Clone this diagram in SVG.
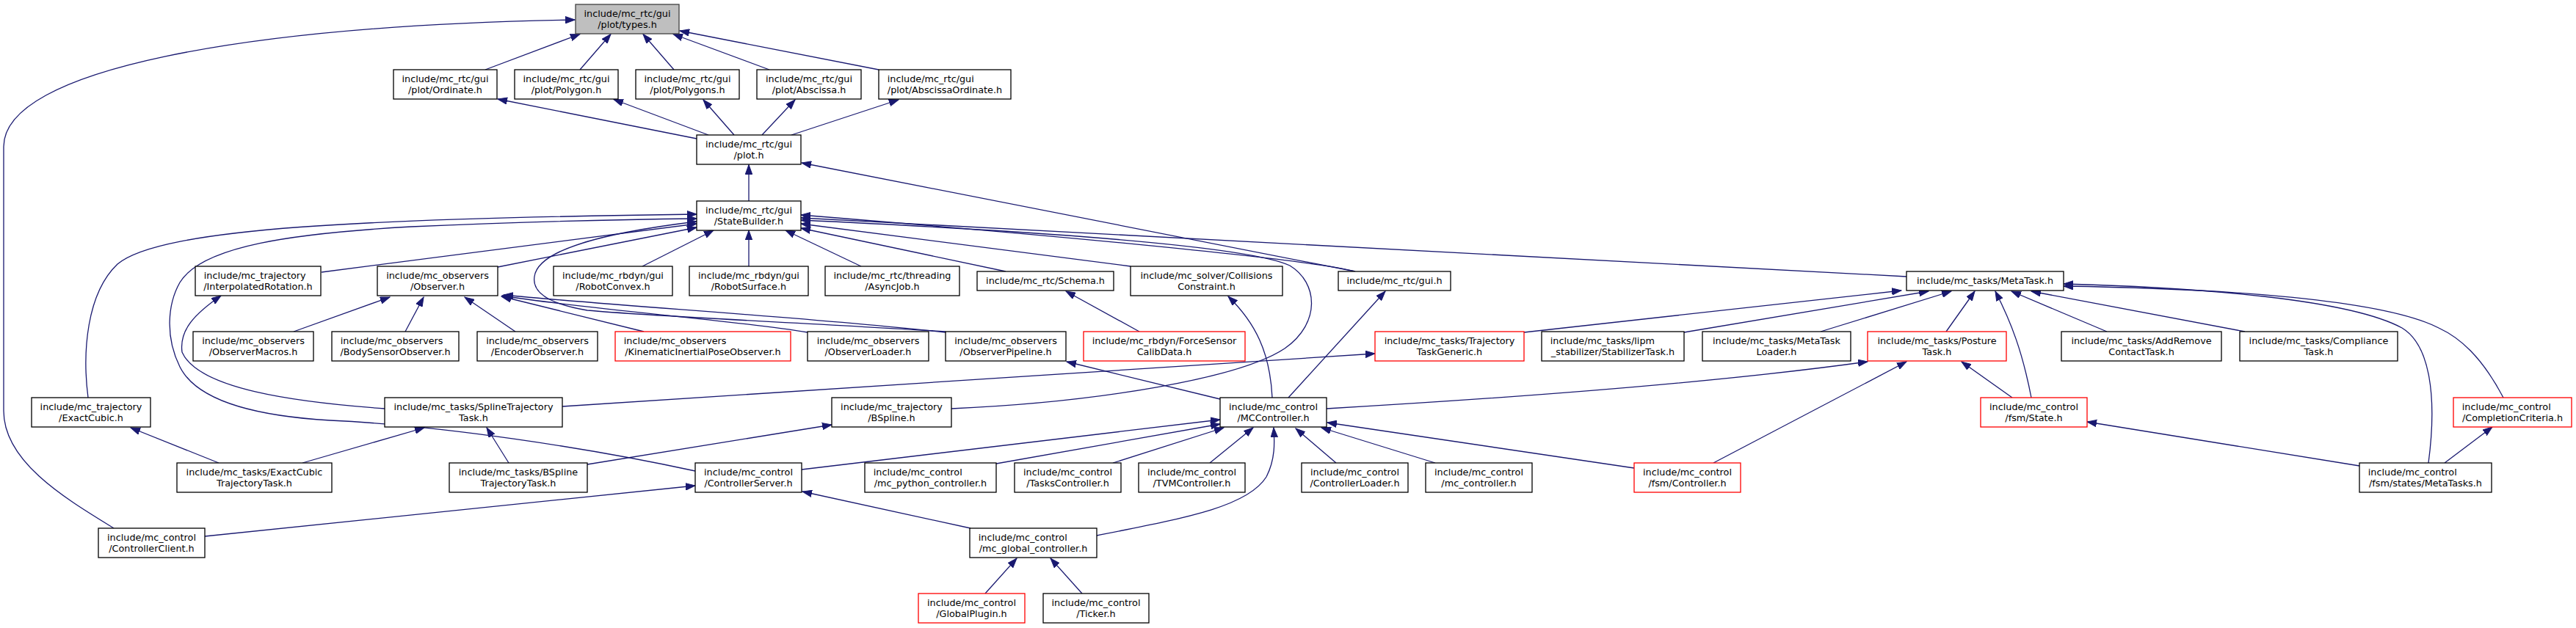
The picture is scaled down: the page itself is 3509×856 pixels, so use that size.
<svg xmlns="http://www.w3.org/2000/svg" width="3509" height="856" viewBox="0 0 3509 856">
<style>
rect{fill:#fff;stroke:#000;stroke-width:1.3}
rect.root{fill:#bfbfbf;stroke:#404040}
rect.red{stroke:#ff0000}
text{font-family:"DejaVu Sans",sans-serif;font-size:12.8px;fill:#000}
text.c{text-anchor:middle}
#edges path{fill:none;stroke:#191970;stroke-width:1.3;marker-end:url(#ah)}
</style>
<defs>
<marker id="ah" markerWidth="14" markerHeight="10" refX="13" refY="5" orient="auto" markerUnits="userSpaceOnUse"><path d="M0,0.3 L13,5 L0,9.7 z" fill="#191970" stroke="#191970" stroke-width="1"/></marker>
</defs>
<rect x="0" y="0" width="3509" height="856" style="fill:#fff;stroke:none"/>
<g id="edges">
<path d="M661,95 L790,46.5"/>
<path d="M790,95 L832,46.5"/>
<path d="M918,95 L876,46.5"/>
<path d="M1048,95 L917,46.5"/>
<path d="M1197,95 L926,42"/>
<path d="M155,720 C90,680 5,630 5,560 L5,200 C5,95 330,35 783,27"/>
<path d="M949,189 L678,135"/>
<path d="M965,184 L836,135.5"/>
<path d="M1000,184 L958,136"/>
<path d="M1038,184 L1083,136"/>
<path d="M1078,184 L1224,136"/>
<path d="M1020,274 L1020,224.5"/>
<path d="M1846,370 L1092,222"/>
<path d="M1846,370 C1780,352 1400,318 1091,293"/>
<path d="M2597,377 L1091,297"/>
<path d="M1370,370 L1091,311"/>
<path d="M1540,363 L1091,305"/>
<path d="M1173,363 L1070,314"/>
<path d="M1020,363 L1020,314"/>
<path d="M875,363 L972,314"/>
<path d="M678,364 L949,310"/>
<path d="M438,371 L949,305"/>
<path d="M120,542 C112,480 118,400 160,360 C220,310 500,298 949,292"/>
<path d="M947,642 C800,610 600,580 450,573 C330,566 265,540 245,500 C225,460 228,415 245,385 C275,335 400,318 560,309 C720,302 860,299 949,298"/>
<path d="M1288,452 C1100,440 900,432 800,423 C740,413 725,395 728,377 C732,345 800,320 949,302"/>
<path d="M1296,557 C1500,548 1690,515 1750,475 C1800,440 1795,385 1757,362 C1690,330 1300,310 1091,300"/>
<path d="M524,557 C400,548 270,530 248,480 C244,450 265,428 301,403"/>
<path d="M400,452 L531,405"/>
<path d="M552,452 L577,405"/>
<path d="M702,452 L633,405"/>
<path d="M877,452 L683,404"/>
<path d="M1100,453 C1000,436 800,422 684,403"/>
<path d="M1288,453 C1100,432 850,418 686,402"/>
<path d="M766,554 L1873,482"/>
<path d="M298,631 L178,583"/>
<path d="M412,631 L578,583"/>
<path d="M693,631 L663,583"/>
<path d="M800,633 L1133,579"/>
<path d="M279,731 L947,662"/>
<path d="M1322,720 L1093,670"/>
<path d="M1342,809 L1385,761"/>
<path d="M1474,809 L1431,761"/>
<path d="M1552,452 L1452,397"/>
<path d="M1733,542 C1730,480 1710,440 1673,404"/>
<path d="M1755,542 L1887,397"/>
<path d="M1662,544 L1453,493"/>
<path d="M1807,557 C2100,540 2350,520 2544,493"/>
<path d="M1092,640 L1662,572"/>
<path d="M1357,632 L1662,578"/>
<path d="M1516,631 L1667,583"/>
<path d="M1648,631 L1707,583"/>
<path d="M1494,730 C1620,705 1700,690 1725,650 C1738,625 1736,600 1735,583"/>
<path d="M1820,631 L1765,584"/>
<path d="M1955,631 L1800,583"/>
<path d="M2226,638 L1808,576"/>
<path d="M2334,631 L2597,493"/>
<path d="M2741,542 L2672,493"/>
<path d="M3214,635 L2843,575"/>
<path d="M3330,631 L3395,582"/>
<path d="M3308,631 C3320,540 3310,470 3272,447 C3200,408 3000,392 2811,387"/>
<path d="M3410,542 C3380,485 3350,460 3322,447 C3240,405 3000,393 2811,390"/>
<path d="M2076,453 L2590,396"/>
<path d="M2294,453 L2627,397"/>
<path d="M2480,452 L2658,397"/>
<path d="M2651,452 L2690,397"/>
<path d="M2767,542 C2755,480 2740,440 2718,397"/>
<path d="M2870,452 L2740,397"/>
<path d="M3058,452 L2767,397"/>
</g>
<g id="n_types"><rect class="root" x="784" y="6" width="141" height="40"/><text class="c" x="854.5" y="22.5">include/mc_rtc/gui</text><text class="c" x="854.5" y="37.5">/plot/types.h</text></g>
<g id="n_ordinate"><rect x="536" y="95" width="141" height="40"/><text class="c" x="606.5" y="111.5">include/mc_rtc/gui</text><text class="c" x="606.5" y="126.5">/plot/Ordinate.h</text></g>
<g id="n_polygon"><rect x="701" y="95" width="141" height="40"/><text class="c" x="771.5" y="111.5">include/mc_rtc/gui</text><text class="c" x="771.5" y="126.5">/plot/Polygon.h</text></g>
<g id="n_polygons"><rect x="866" y="95" width="141" height="40"/><text class="c" x="936.5" y="111.5">include/mc_rtc/gui</text><text class="c" x="936.5" y="126.5">/plot/Polygons.h</text></g>
<g id="n_abscissa"><rect x="1031" y="95" width="142" height="40"/><text class="c" x="1102" y="111.5">include/mc_rtc/gui</text><text class="c" x="1102" y="126.5">/plot/Abscissa.h</text></g>
<g id="n_absord"><rect x="1197" y="95" width="180" height="40"/><text x="1208.8" y="111.5">include/mc_rtc/gui</text><text class="c" x="1287" y="126.5">/plot/AbscissaOrdinate.h</text></g>
<g id="n_plot"><rect x="949" y="184" width="142" height="40"/><text class="c" x="1020" y="200.5">include/mc_rtc/gui</text><text class="c" x="1020" y="215.5">/plot.h</text></g>
<g id="n_statebuilder"><rect x="949" y="274" width="142" height="40"/><text class="c" x="1020" y="290.5">include/mc_rtc/gui</text><text class="c" x="1020" y="305.5">/StateBuilder.h</text></g>
<g id="n_interp"><rect x="266" y="363" width="171" height="40"/><text x="277.8" y="379.5">include/mc_trajectory</text><text class="c" x="351.5" y="394.5">/InterpolatedRotation.h</text></g>
<g id="n_observer"><rect x="514" y="363" width="164" height="40"/><text class="c" x="596" y="379.5">include/mc_observers</text><text class="c" x="596" y="394.5">/Observer.h</text></g>
<g id="n_robotconvex"><rect x="754" y="363" width="162" height="40"/><text class="c" x="835" y="379.5">include/mc_rbdyn/gui</text><text class="c" x="835" y="394.5">/RobotConvex.h</text></g>
<g id="n_robotsurface"><rect x="939" y="363" width="162" height="40"/><text class="c" x="1020" y="379.5">include/mc_rbdyn/gui</text><text class="c" x="1020" y="394.5">/RobotSurface.h</text></g>
<g id="n_asyncjob"><rect x="1124" y="363" width="183" height="40"/><text class="c" x="1215.5" y="379.5">include/mc_rtc/threading</text><text class="c" x="1215.5" y="394.5">/AsyncJob.h</text></g>
<g id="n_schema"><rect x="1331" y="370" width="186" height="26"/><text class="c" x="1424" y="387">include/mc_rtc/Schema.h</text></g>
<g id="n_collisions"><rect x="1540" y="363" width="207" height="40"/><text class="c" x="1643.5" y="379.5">include/mc_solver/Collisions</text><text class="c" x="1643.5" y="394.5">Constraint.h</text></g>
<g id="n_gui"><rect x="1823" y="370" width="153" height="26"/><text class="c" x="1899.5" y="387">include/mc_rtc/gui.h</text></g>
<g id="n_metatask"><rect x="2597" y="370" width="214" height="26"/><text class="c" x="2704" y="387">include/mc_tasks/MetaTask.h</text></g>
<g id="n_obsmacros"><rect x="263" y="452" width="164" height="40"/><text class="c" x="345" y="468.5">include/mc_observers</text><text class="c" x="345" y="483.5">/ObserverMacros.h</text></g>
<g id="n_bodysensor"><rect x="452" y="452" width="173" height="40"/><text x="463.8" y="468.5">include/mc_observers</text><text class="c" x="538.5" y="483.5">/BodySensorObserver.h</text></g>
<g id="n_encoder"><rect x="650" y="452" width="164" height="40"/><text class="c" x="732" y="468.5">include/mc_observers</text><text class="c" x="732" y="483.5">/EncoderObserver.h</text></g>
<g id="n_kinematic"><rect class="red" x="838" y="452" width="239" height="40"/><text x="849.8" y="468.5">include/mc_observers</text><text class="c" x="957.5" y="483.5">/KinematicInertialPoseObserver.h</text></g>
<g id="n_obsloader"><rect x="1100" y="452" width="165" height="40"/><text class="c" x="1182.5" y="468.5">include/mc_observers</text><text class="c" x="1182.5" y="483.5">/ObserverLoader.h</text></g>
<g id="n_obspipeline"><rect x="1288" y="452" width="164" height="40"/><text class="c" x="1370" y="468.5">include/mc_observers</text><text class="c" x="1370" y="483.5">/ObserverPipeline.h</text></g>
<g id="n_forcesensor"><rect class="red" x="1476" y="452" width="220" height="40"/><text class="c" x="1586" y="468.5">include/mc_rbdyn/ForceSensor</text><text class="c" x="1586" y="483.5">CalibData.h</text></g>
<g id="n_trajgeneric"><rect class="red" x="1873" y="452" width="203" height="40"/><text class="c" x="1974.5" y="468.5">include/mc_tasks/Trajectory</text><text class="c" x="1974.5" y="483.5">TaskGeneric.h</text></g>
<g id="n_stabilizer"><rect x="2100" y="452" width="194" height="40"/><text x="2111.8" y="468.5">include/mc_tasks/lipm</text><text class="c" x="2197" y="483.5">_stabilizer/StabilizerTask.h</text></g>
<g id="n_metaloader"><rect x="2319" y="452" width="202" height="40"/><text class="c" x="2420" y="468.5">include/mc_tasks/MetaTask</text><text class="c" x="2420" y="483.5">Loader.h</text></g>
<g id="n_posture"><rect class="red" x="2544" y="452" width="189" height="40"/><text class="c" x="2638.5" y="468.5">include/mc_tasks/Posture</text><text class="c" x="2638.5" y="483.5">Task.h</text></g>
<g id="n_addremove"><rect x="2808" y="452" width="218" height="40"/><text class="c" x="2917" y="468.5">include/mc_tasks/AddRemove</text><text class="c" x="2917" y="483.5">ContactTask.h</text></g>
<g id="n_compliance"><rect x="3051" y="452" width="215" height="40"/><text class="c" x="3158.5" y="468.5">include/mc_tasks/Compliance</text><text class="c" x="3158.5" y="483.5">Task.h</text></g>
<g id="n_exactcubic"><rect x="43" y="542" width="162" height="40"/><text class="c" x="124" y="558.5">include/mc_trajectory</text><text class="c" x="124" y="573.5">/ExactCubic.h</text></g>
<g id="n_splinetraj"><rect x="524" y="542" width="242" height="40"/><text class="c" x="645" y="558.5">include/mc_tasks/SplineTrajectory</text><text class="c" x="645" y="573.5">Task.h</text></g>
<g id="n_bspline"><rect x="1133" y="542" width="163" height="40"/><text class="c" x="1214.5" y="558.5">include/mc_trajectory</text><text class="c" x="1214.5" y="573.5">/BSpline.h</text></g>
<g id="n_mccontroller"><rect x="1662" y="542" width="145" height="40"/><text class="c" x="1734.5" y="558.5">include/mc_control</text><text class="c" x="1734.5" y="573.5">/MCController.h</text></g>
<g id="n_state"><rect class="red" x="2698" y="542" width="145" height="40"/><text class="c" x="2770.5" y="558.5">include/mc_control</text><text class="c" x="2770.5" y="573.5">/fsm/State.h</text></g>
<g id="n_completion"><rect class="red" x="3342" y="542" width="161" height="40"/><text x="3353.8" y="558.5">include/mc_control</text><text class="c" x="3422.5" y="573.5">/CompletionCriteria.h</text></g>
<g id="n_exactcubictraj"><rect x="241" y="631" width="211" height="40"/><text class="c" x="346.5" y="647.5">include/mc_tasks/ExactCubic</text><text class="c" x="346.5" y="662.5">TrajectoryTask.h</text></g>
<g id="n_bsplinetraj"><rect x="612" y="631" width="188" height="40"/><text class="c" x="706" y="647.5">include/mc_tasks/BSpline</text><text class="c" x="706" y="662.5">TrajectoryTask.h</text></g>
<g id="n_ctrlserver"><rect x="947" y="631" width="145" height="40"/><text class="c" x="1019.5" y="647.5">include/mc_control</text><text class="c" x="1019.5" y="662.5">/ControllerServer.h</text></g>
<g id="n_python"><rect x="1178" y="631" width="179" height="40"/><text x="1189.8" y="647.5">include/mc_control</text><text class="c" x="1267.5" y="662.5">/mc_python_controller.h</text></g>
<g id="n_tasksctrl"><rect x="1382" y="631" width="145" height="40"/><text class="c" x="1454.5" y="647.5">include/mc_control</text><text class="c" x="1454.5" y="662.5">/TasksController.h</text></g>
<g id="n_tvm"><rect x="1551" y="631" width="145" height="40"/><text class="c" x="1623.5" y="647.5">include/mc_control</text><text class="c" x="1623.5" y="662.5">/TVMController.h</text></g>
<g id="n_ctrlloader"><rect x="1773" y="631" width="145" height="40"/><text class="c" x="1845.5" y="647.5">include/mc_control</text><text class="c" x="1845.5" y="662.5">/ControllerLoader.h</text></g>
<g id="n_mcctrl"><rect x="1942" y="631" width="145" height="40"/><text class="c" x="2014.5" y="647.5">include/mc_control</text><text class="c" x="2014.5" y="662.5">/mc_controller.h</text></g>
<g id="n_fsmctrl"><rect class="red" x="2226" y="631" width="145" height="40"/><text class="c" x="2298.5" y="647.5">include/mc_control</text><text class="c" x="2298.5" y="662.5">/fsm/Controller.h</text></g>
<g id="n_metatasks"><rect x="3214" y="631" width="180" height="40"/><text x="3225.8" y="647.5">include/mc_control</text><text class="c" x="3304" y="662.5">/fsm/states/MetaTasks.h</text></g>
<g id="n_ctrlclient"><rect x="134" y="720" width="145" height="40"/><text class="c" x="206.5" y="736.5">include/mc_control</text><text class="c" x="206.5" y="751.5">/ControllerClient.h</text></g>
<g id="n_globalctrl"><rect x="1321" y="720" width="173" height="40"/><text x="1332.8" y="736.5">include/mc_control</text><text class="c" x="1407.5" y="751.5">/mc_global_controller.h</text></g>
<g id="n_globalplugin"><rect class="red" x="1251" y="809" width="145" height="40"/><text class="c" x="1323.5" y="825.5">include/mc_control</text><text class="c" x="1323.5" y="840.5">/GlobalPlugin.h</text></g>
<g id="n_ticker"><rect x="1421" y="809" width="144" height="40"/><text class="c" x="1493" y="825.5">include/mc_control</text><text class="c" x="1493" y="840.5">/Ticker.h</text></g>
</svg>
